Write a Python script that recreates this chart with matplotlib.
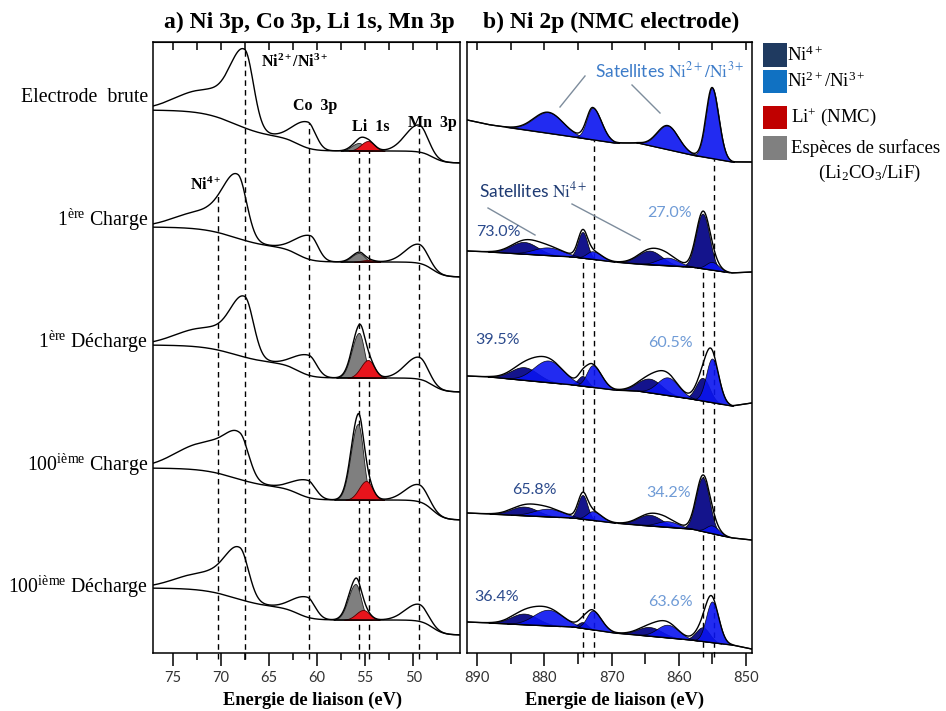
import numpy as np
import matplotlib
matplotlib.use("Agg")
import matplotlib.pyplot as plt
from matplotlib.patches import Rectangle
from matplotlib.lines import Line2D

plt.rcParams['mathtext.fontset'] = 'stix'
plt.rcParams['font.family'] = ['Liberation Serif', 'DejaVu Serif']

W, H = 946, 711

# ---------------- Left panel data (Ni 3p, Co 3p, Li 1s, Mn 3p) ----------------
row_labels = ["Electrode  brute",
              r"1$\mathregular{^{ère}}$ Charge",
              r"1$\mathregular{^{ère}}$ Décharge",
              r"100$\mathregular{^{ième}}$ Charge",
              r"100$\mathregular{^{ième}}$ Décharge"]
left_bg_end = [490, 376, 261, 133, 18]       # background level at low-energy end
left_step_mn = [12, 15, 14, 20, 15]
left_step_co = [13, 14, 14, 12, 12]
left_step_ni = [28, 21, 19, 20, 20]
ni_center = [67.5, 68.2, 67.5, 68.0, 68.0]
ni_main = [74, 58, 57, 39, 47]
ni_shoulder = [23, 18, 19, 27, 17]
co_center = [60.95, 60.7, 60.85, 60.95, 61.0]
co_height = [26, 24, 20, 17, 20]
li_gray_center = [55.65, 55.65, 55.65, 55.75, 56.0]
li_gray = [8, 9, 45, 76, 36]
li_red_center = [54.7, 54.7, 54.7, 54.9, 55.2]
li_red = [10, 2, 18, 19, 10]
mn_height = [27, 19, 22, 17, 17]
left_dash_E = [70.33, 67.5, 60.85, 55.65, 54.6, 49.38]
left_dash_row = [1, 0, 0, 0, 0, 0]
left_dash_from_bg = [False, False, False, True, True, False]

# ---------------- Right panel data (Ni 2p) ----------------
knots_E = [891.5, 888.0, 875.5, 869.5, 866.0, 858.0, 852.0, 849.1]
right_base = [
    [533, 528, 516, 510, 510, 498, 491, 491],
    [402, 401, 396, 391, 389, 386, 380, 381],
    [277, 276, 268, 263, 262, 254, 247, 250],
    [140, 139, 135, 130, 128, 124, 115, 113],
    [31, 30, 26, 20, 18, 13, 8, 4],
]
ni4_sat1 = [0, 12, 13, 9, 11]
ni23_sat1 = [21, 8, 22, 8, 16]
ni4_2p12 = [0, 26, 10, 24, 6]
ni23_2p12 = [32, 8, 22, 9, 19]
ni4_sat2 = [0, 14, 14, 11, 9]
ni23_sat2 = [24, 8, 18, 6, 13]
ni4_2p32 = [0, 55, 23, 54, 14]
ni23_2p32 = [71, 8, 44, 8, 41]
pct_ni4 = ["73.0%", "39.5%", "65.8%", "36.4%"]
pct_ni23 = ["27.0%", "60.5%", "34.2%", "63.6%"]
right_dash_E = [874.3, 872.6, 856.4, 854.7]
right_dash_row = [1, 0, 1, 0]


def agauss(E, c, h, s_hi, s_lo):
    s = np.where(E > c, s_hi, s_lo)
    return h * np.exp(-0.5 * ((E - c) / s) ** 2)


def step(E, c, w):
    return 0.5 * (1 + np.tanh((E - c) / w))


def fx(x):
    return x / W


def fy(y):
    return 1 - y / H


fig = plt.figure(figsize=(9.46, 7.11), dpi=100)
axL = fig.add_axes([fx(153.3), fy(653), fx(460) - fx(153.3), fy(42) - fy(653)])
axR = fig.add_axes([fx(467.3), fy(653), fx(751.7) - fx(467.3), fy(42) - fy(653)])

# ---------------- Left panel ----------------
EL = np.linspace(45.15, 77.0, 1200)
left_sig = []
left_bgs = []
for i in range(5):
    bg = (left_bg_end[i] + left_step_mn[i] * step(EL, 48.0, 1.2)
          + left_step_co[i] * step(EL, 62.0, 1.5)
          + left_step_ni[i] * step(EL, 68.5, 3.5))
    p_ni = agauss(EL, ni_center[i], ni_main[i], 1.5, 0.9)
    p_sh = agauss(EL, 71.5, ni_shoulder[i], 3.0, 2.2)
    p_co = agauss(EL, co_center[i], co_height[i], 1.5, 0.8)
    p_g = agauss(EL, li_gray_center[i], li_gray[i], 0.75, 0.55)
    p_r = agauss(EL, li_red_center[i], li_red[i], 0.75, 0.65)
    p_mn = agauss(EL, 49.4, mn_height[i], 1.4, 0.9)
    sig = bg + p_ni + p_sh + p_co + p_g + p_r + p_mn
    m = p_g > 0.3
    axL.fill_between(EL[m], bg[m], (bg + p_g)[m], facecolor='#7f7f7f',
                     edgecolor='#202020', lw=0.6, zorder=2)
    m = p_r > 0.3
    axL.fill_between(EL[m], bg[m], (bg + p_r)[m], facecolor='#e8141c',
                     edgecolor='#500000', lw=0.6, zorder=3)
    axL.plot(EL, bg, color='black', lw=1.0, zorder=4)
    axL.plot(EL, sig, color='black', lw=1.0, zorder=4)
    left_sig.append(sig)
    left_bgs.append(bg)

for E0, r, fb in zip(left_dash_E, left_dash_row, left_dash_from_bg):
    src = left_bgs[r] if fb else left_sig[r]
    ytop = np.interp(E0, EL, src)
    axL.plot([E0, E0], [-6, ytop], color='black', lw=1.0,
             dashes=(4, 3), clip_on=False, zorder=1)

axL.set_xlim(77.0, 45.15)
axL.set_ylim(0, 611)
axL.set_yticks([])
axL.set_xticks([75, 70, 65, 60, 55, 50])
axL.set_xticks(np.arange(47.5, 77, 5), minor=True)

# ---------------- Right panel ----------------
ER = np.linspace(849.1, 891.5, 1400)
kE = np.array(knots_E)[::-1]
comp_defs = [
    (ni4_sat1, 883.0, 2.0, 2.0, 'd'),
    (ni4_2p12, 874.3, 0.7, 0.7, 'd'),
    (ni4_sat2, 864.3, 1.8, 1.8, 'd'),
    (ni4_2p32, 856.4, 1.0, 1.0, 'd'),
    (ni23_sat1, 879.4, 2.2, 2.2, 'b'),
    (ni23_2p12, 872.8, 0.9, 1.3, 'b'),
    (ni23_sat2, 861.6, 1.6, 1.6, 'b'),
    (ni23_2p32, 855.0, 0.9, 1.0, 'b'),
]
right_bases = []
for i in range(5):
    base = np.interp(ER, kE, np.array(right_base[i])[::-1])
    total = base.copy()
    for arr, c, shi, slo, kind in comp_defs:
        if arr[i] <= 0:
            continue
        comp = agauss(ER, c, arr[i], shi, slo)
        total += comp
        m = comp > 0.3
        if kind == 'd':
            axR.fill_between(ER[m], base[m], (base + comp)[m], facecolor='#14148c',
                             edgecolor='black', lw=0.5, zorder=2)
        else:
            axR.fill_between(ER[m], base[m], (base + comp)[m], facecolor='#0a14f0',
                             edgecolor='black', lw=0.5, alpha=0.9, zorder=3)
    axR.plot(ER, base, color='black', lw=0.9, zorder=4)
    axR.plot(ER, total, color='black', lw=1.0, zorder=5)
    right_bases.append(base)

for E0, r in zip(right_dash_E, right_dash_row):
    ytop = np.interp(E0, ER, right_bases[r])
    axR.plot([E0, E0], [-4, ytop], color='black', lw=1.0,
             dashes=(4, 3), clip_on=False, zorder=1)

axR.set_xlim(891.5, 849.1)
axR.set_ylim(0, 611)
axR.set_yticks([])
axR.set_xticks([890, 880, 870, 860, 850])
axR.set_xticks(np.arange(855, 890, 10), minor=True)

for ax, top_ticks, mlen in ((axL, np.arange(47.5, 77.1, 2.5), 5),
                            (axR, np.arange(850, 891, 5), 8)):
    for s in ax.spines.values():
        s.set_linewidth(1.1)
    ax.tick_params(axis='x', which='major', direction='out', length=9, width=1.1,
                   labelsize=10.5, pad=4)
    ax.tick_params(axis='x', which='minor', direction='out', length=mlen, width=1.1)
    for lbl in ax.get_xticklabels():
        lbl.set_fontfamily('Lato')
        lbl.set_color('#333333')
    sec = ax.secondary_xaxis('top')
    sec.set_xticks(top_ticks)
    sec.tick_params(direction='in', length=6, width=1.1, labeltop=False)

# ---------------- Texts ----------------
fig.text(fx(309), fy(22), "a) Ni 3p, Co 3p, Li 1s, Mn 3p", ha='center', va='center',
         fontsize=17, fontweight='bold')
fig.text(fx(611), fy(22), "b) Ni 2p (NMC electrode)", ha='center', va='center',
         fontsize=17, fontweight='bold')
for xc in (312, 614):
    fig.text(fx(xc), fy(700), "Energie de liaison (eV)", ha='center', va='center',
             fontsize=13.2, fontweight='bold')

row_y = [97, 220, 342, 465, 587]
for lab, y in zip(row_labels, row_y):
    fig.text(fx(148), fy(y), lab, ha='right', va='center', fontsize=14.3)

# left panel peak labels
fig.text(fx(261), fy(62), r"Ni$\mathregular{^{2+}}$/Ni$\mathregular{^{3+}}$", ha='left', va='center',
         fontsize=11.5, fontweight='bold')
fig.text(fx(293), fy(106), "Co  3p", ha='left', va='center', fontsize=11.5, fontweight='bold')
fig.text(fx(352), fy(127), "Li  1s", ha='left', va='center', fontsize=11.5, fontweight='bold')
fig.text(fx(408), fy(123), "Mn  3p", ha='left', va='center', fontsize=11.5, fontweight='bold')
fig.text(fx(190), fy(185), r"Ni$\mathregular{^{4+}}$", ha='left', va='center',
         fontsize=11.5, fontweight='bold')

# right panel labels
fig.text(fx(595), fy(70), r"Satellites $\mathrm{Ni^{2+}/Ni^{3+}}$",
         ha='left', va='center', fontsize=12.5, color='#3d7cc9', family='Lato')
fig.text(fx(479), fy(190), r"Satellites $\mathrm{Ni^{4+}}$",
         ha='left', va='center', fontsize=12.5, color='#1f3b73', family='Lato')
for (x0, y0, x1, y1) in [(585, 76, 560, 107), (632, 85, 660, 113),
                         (488, 208, 535, 235), (572, 204, 640, 240)]:
    fig.add_artist(Line2D([fx(x0), fx(x1)], [fy(y0), fy(y1)], color='#7d8c9c', lw=1.0))

pct_left_xy = [(498, 232), (498, 340), (534, 490), (497, 597)]
pct_right_xy = [(670, 213), (670, 343), (669, 493), (670, 602)]
for t, (x, y) in zip(pct_ni4, pct_left_xy):
    fig.text(fx(x), fy(y), t, ha='center', va='center', fontsize=11.5,
             family='Lato', color='#2b4a8c')
for t, (x, y) in zip(pct_ni23, pct_right_xy):
    fig.text(fx(x), fy(y), t, ha='center', va='center', fontsize=11.5,
             family='Lato', color='#6f9bd6')

# legend
leg = [("#1f3a60", r"Ni$\mathregular{^{4+}}$", 43, 67, 787),
       ("#1071c2", r"Ni$\mathregular{^{2+}}$/Ni$\mathregular{^{3+}}$", 70, 93, 787),
       ("#c00000", r"Li$\mathregular{^{+}}$ (NMC)", 106, 129, 791),
       ("#808080", "Espèces de surfaces", 136, 160, 791)]
for col, lab, y0, y1, xt in leg:
    fig.add_artist(Rectangle((fx(763), fy(y1)), fx(787) - fx(763), fy(y0) - fy(y1),
                             facecolor=col, edgecolor='none', transform=fig.transFigure))
    fig.text(fx(xt), fy((y0 + y1) / 2), lab, ha='left', va='center', fontsize=13.5)
fig.text(fx(818), fy(173), r"(Li$\mathregular{_{2}}$CO$\mathregular{_{3}}$/LiF)",
         ha='left', va='center', fontsize=13.5)

fig.savefig("out.png", dpi=100)
